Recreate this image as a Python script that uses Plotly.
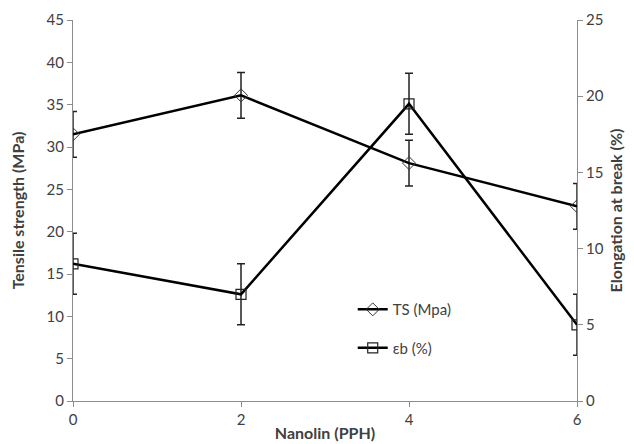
import plotly.graph_objects as go

nanolin = [0, 2, 4, 6]
ts_values = [31.5, 36.1, 28.1, 23.0]
ts_errors = [2.7, 2.7, 2.7, 2.7]
eb_values = [9.0, 7.0, 19.5, 5.0]
eb_errors = [2.0, 2.0, 2.0, 2.0]

FONT = "Lato"
GRAY = "#8c8c8c"
TXT = "#404040"

fig = go.Figure()
fig.add_trace(go.Scatter(
    x=nanolin, y=ts_values, name="TS (Mpa)", mode="lines+markers",
    line=dict(color="black", width=2.5),
    marker=dict(symbol="diamond-open", size=10, color="#333333", line=dict(width=1)),
    error_y=dict(type="data", array=ts_errors, color="#222222", thickness=1.5, width=4),
    legendgroup="a", yaxis="y"))
fig.add_trace(go.Scatter(
    x=nanolin, y=eb_values, name="εb (%)", mode="lines+markers",
    line=dict(color="black", width=2.5),
    marker=dict(symbol="square-open", size=10, color="#222222", line=dict(width=1.2)),
    error_y=dict(type="data", array=eb_errors, color="#222222", thickness=1.5, width=4),
    legendgroup="b", yaxis="y2"))

fig.update_layout(
    width=626, height=436,
    margin=dict(l=65, r=57, t=12, b=43),
    paper_bgcolor="white", plot_bgcolor="white",
    font=dict(family=FONT, size=15, color=TXT),
    showlegend=True,
    legend=dict(x=0.555, y=0.19, xanchor="left", yanchor="middle",
                bgcolor="rgba(0,0,0,0)", traceorder="grouped", tracegroupgap=16,
                font=dict(family=FONT, size=15, color=TXT), itemwidth=30),
    xaxis=dict(range=[0, 6], tickvals=[0, 2, 4, 6], showgrid=False, zeroline=False,
               showline=True, linecolor=GRAY, linewidth=1, automargin=False,
               ticks="outside", ticklen=5, tickcolor=GRAY,
               title=dict(text="<b>Nanolin (PPH)</b>", font=dict(size=16, color=TXT), standoff=0),
               tickfont=dict(size=15)),
    yaxis=dict(range=[0, 45], dtick=5, showgrid=False, zeroline=False,
               showline=True, linecolor=GRAY, linewidth=1, automargin=False,
               ticks="outside", ticklen=5, tickcolor=GRAY,
               title=dict(text="<b>Tensile strength (MPa)</b>", font=dict(size=16, color=TXT), standoff=18),
               tickfont=dict(size=15)),
    yaxis2=dict(range=[0, 25], dtick=5, overlaying="y", side="right", showgrid=False, zeroline=False,
                showline=True, linecolor=GRAY, linewidth=1, automargin=False,
                ticks="outside", ticklen=5, tickcolor=GRAY,
                title=dict(text="<b>Elongation at break (%)</b>", font=dict(size=16, color=TXT), standoff=8),
                tickfont=dict(size=15)),
)

fig.write_html("out.html")
